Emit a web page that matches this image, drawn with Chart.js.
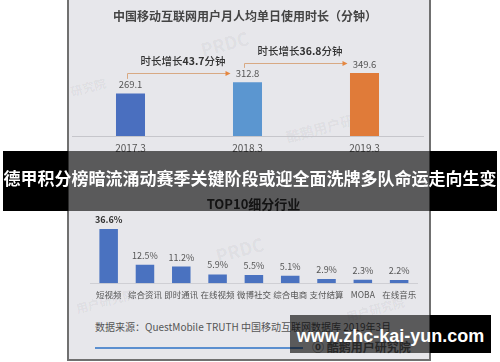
<!DOCTYPE html>
<html>
<head>
<meta charset="utf-8">
<script src="https://cdn.jsdelivr.net/npm/chart.js@4.4.1/dist/chart.umd.min.js"></script>
<style>
  html, body { margin: 0; padding: 0; background: #fff; }
  body { width: 500px; height: 362px; position: relative; overflow: hidden;
         font-family: "Noto Sans CJK SC", "Noto Sans", sans-serif; }
  .abs { position: absolute; }
  .card { left: 67px; top: -4px; width: 364px; height: 365px; background: #e7e7eb;
          border: 2px solid #707070; box-sizing: border-box; }
  .mark { color: rgba(0, 0, 0, 0.05); font-weight: bold; transform: rotate(-15deg); white-space: nowrap; }
  .title { left: 0; width: 490px; top: 8px; line-height: 16px; text-align: center;
           font-size: 12px; font-weight: bold; color: #444; }
  .title2 { left: 0; width: 507px; top: 196px; line-height: 16px; text-align: center;
            font-size: 13px; font-weight: bold; color: #333; }
  .source { left: 95px; top: 320px; line-height: 14px; font-size: 10px; color: #555; white-space: nowrap; }
  .rule { left: 95px; top: 347px; width: 208px; height: 2px; background: #5b8fcf; }
  .logo { left: 312px; top: 340px; line-height: 14px; font-size: 12px; font-weight: bold; color: #666; white-space: nowrap; }
  .black { background: #000; }
  .shade { background: rgba(0, 0, 0, 0.61); }
  .banner-text { left: 0; width: 500px; top: 168px; line-height: 20px; text-align: center;
                 font-size: 17px; font-weight: bold; color: #fff; white-space: nowrap; }
  .site { left: 290px; width: 201px; top: 325px; line-height: 22px; text-align: center;
          font-family: "Liberation Sans", Arial, sans-serif; font-size: 18px; font-weight: bold; color: #fff; }
</style>
</head>
<body>
<div class="abs card"></div>
<div class="abs mark" style="left:200px;top:30px;font-size:18px;">PRDC</div>
<div class="abs mark" style="left:70px;top:78px;font-size:12px;">研究院</div>
<div class="abs mark" style="left:285px;top:118px;font-size:14px;">酷鹅用户研</div>
<div class="abs mark" style="left:215px;top:236px;font-size:18px;">PRDC</div>
<div class="abs mark" style="left:75px;top:292px;font-size:12px;">用户研究院</div>
<div class="abs mark" style="left:345px;top:300px;font-size:12px;">用户研究院</div>

<canvas id="topChart" class="abs" width="500" height="160" style="left:0;top:0;"></canvas>
<canvas id="industryChart" class="abs" width="500" height="100" style="left:0;top:210px;"></canvas>

<div class="abs title">中国移动互联网用户月人均单日使用时长（分钟）</div>
<div class="abs title2">TOP10细分行业</div>
<div class="abs source">数据来源：QuestMobile TRUTH 中国移动互联网数据库 2019年3月</div>
<div class="abs rule"></div>
<div class="abs logo">⓪ 酷鹅用户研究院</div>

<div class="abs black" style="left:3px;top:151px;width:65px;height:60px;"></div>
<div class="abs shade" style="left:68px;top:151px;width:362px;height:60px;"></div>
<div class="abs black" style="left:430px;top:151px;width:67px;height:60px;"></div>
<div class="abs banner-text">德甲积分榜暗流涌动赛季关键阶段或迎全面洗牌多队命运走向生变</div>

<div class="abs shade" style="left:290px;top:315px;width:140px;height:38px;"></div>
<div class="abs black" style="left:430px;top:315px;width:61px;height:38px;"></div>
<div class="abs site">www.zhc-kai-yun.com</div>

<script>
// top chart: minutes per day
let years = ["2017.3", "2018.3", "2019.3"];
let minutes = [269.1, 312.8, 349.6];
let growth = ["43.7", "36.8"];
let yearColors = ["#4a6fbf", "#5b96d0", "#e07b39"];

// bottom chart: top industries
let industries = ["短视频", "综合资讯", "即时通讯", "在线视频", "微博社交", "综合电商", "支付结算", "MOBA", "在线音乐"];
let shares = [36.6, 12.5, 11.2, 5.9, 5.5, 5.1, 2.9, 2.3, 2.2];

const FONT = '"Noto Sans CJK SC", "Noto Sans", sans-serif';
Chart.defaults.font.family = FONT;

// value text above each bar
const barNotes = {
  id: "barNotes",
  afterDatasetsDraw(chart, args, opts) {
    const ctx = chart.ctx;
    const bars = chart.getDatasetMeta(0).data;
    const values = chart.data.datasets[0].data;
    ctx.save();
    ctx.textAlign = "center";
    ctx.textBaseline = "middle";
    bars.forEach((bar, i) => {
      let bold = opts.boldFirst && i === 0;
      ctx.font = (bold ? "bold " : "") + opts.size + "px " + FONT;
      ctx.fillStyle = bold ? "#333" : opts.color;
      ctx.fillText(values[i] + opts.suffix, bar.x, bar.y - opts.gap);
    });
    ctx.restore();
  },
};

// the "时长增长" arrows between bars
const growthArrows = {
  id: "growthArrows",
  afterDatasetsDraw(chart) {
    const ctx = chart.ctx;
    const bars = chart.getDatasetMeta(0).data;
    ctx.save();
    for (let i = 0; i < bars.length - 1; i++) {
      let x0 = Math.round(bars[i].x - 4) + 0.5;
      let y0 = bars[i].y - 14.5;
      let x1 = bars[i + 1].x - 17;
      let yTop = Math.round(bars[i + 1].y - 9.7) + 0.5;

      ctx.strokeStyle = "#d8a983";
      ctx.lineWidth = 1;
      ctx.beginPath();
      ctx.moveTo(x0, y0);
      ctx.lineTo(x0, yTop);
      ctx.lineTo(x1 - 3, yTop);
      ctx.stroke();

      ctx.fillStyle = "#e5863f";
      ctx.beginPath();
      ctx.moveTo(x1, yTop);
      ctx.lineTo(x1 - 5, yTop - 2.5);
      ctx.lineTo(x1 - 5, yTop + 2.5);
      ctx.closePath();
      ctx.fill();

      let parts = [
        ["时长增长", "500 10.5px " + FONT],
        [growth[i], "bold 10.5px " + FONT],
        ["分钟", "500 10.5px " + FONT],
      ];
      let total = 0;
      parts.forEach((p) => {
        ctx.font = p[1];
        total += ctx.measureText(p[0]).width;
      });
      let x = (x0 + x1) / 2 + 4 - total / 2;
      let y = yTop - 12.5;
      ctx.textAlign = "left";
      ctx.textBaseline = "middle";
      ctx.fillStyle = "#333";
      parts.forEach((p) => {
        ctx.font = p[1];
        ctx.fillText(p[0], x, y);
        x += ctx.measureText(p[0]).width;
      });
    }
    ctx.restore();
  },
};

new Chart(document.getElementById("topChart").getContext("2d"), {
  type: "bar",
  data: {
    labels: years,
    datasets: [
      {
        data: minutes,
        backgroundColor: yearColors,
        barPercentage: 0.248,
        categoryPercentage: 1,
      },
    ],
  },
  options: {
    responsive: false,
    animation: false,
    layout: { padding: { left: 72, right: 77, top: 10, bottom: 0 } },
    scales: {
      x: {
        grid: { display: false, drawTicks: false },
        border: { display: true, color: "#c6c6cb", width: 1 },
        ticks: { color: "#555", font: { size: 10 }, padding: 6, maxRotation: 0, autoSkip: false },
      },
      y: { display: false, min: 100, max: 600 },
    },
    plugins: {
      legend: { display: false },
      tooltip: { enabled: false },
      barNotes: { size: 9.5, color: "#555", gap: 9, suffix: "", boldFirst: false },
    },
  },
  plugins: [barNotes, growthArrows],
});

new Chart(document.getElementById("industryChart").getContext("2d"), {
  type: "bar",
  data: {
    labels: industries,
    datasets: [
      {
        data: shares,
        backgroundColor: "#4a72c0",
        barPercentage: 0.51,
        categoryPercentage: 1,
      },
    ],
  },
  options: {
    responsive: false,
    animation: false,
    layout: { padding: { left: 90.5, right: 82.7, top: 14, bottom: 4.6 } },
    scales: {
      x: {
        grid: { display: false, drawTicks: false },
        border: { display: true, color: "#cfcfd4", width: 1 },
        ticks: { color: "#555", font: { size: 8.5 }, padding: 6, maxRotation: 0, autoSkip: false },
      },
      y: { display: false, min: 0, max: 40 },
    },
    plugins: {
      legend: { display: false },
      tooltip: { enabled: false },
      barNotes: { size: 9, color: "#555", gap: 9.5, suffix: "%", boldFirst: true },
    },
  },
  plugins: [barNotes],
});
</script>
</body>
</html>
